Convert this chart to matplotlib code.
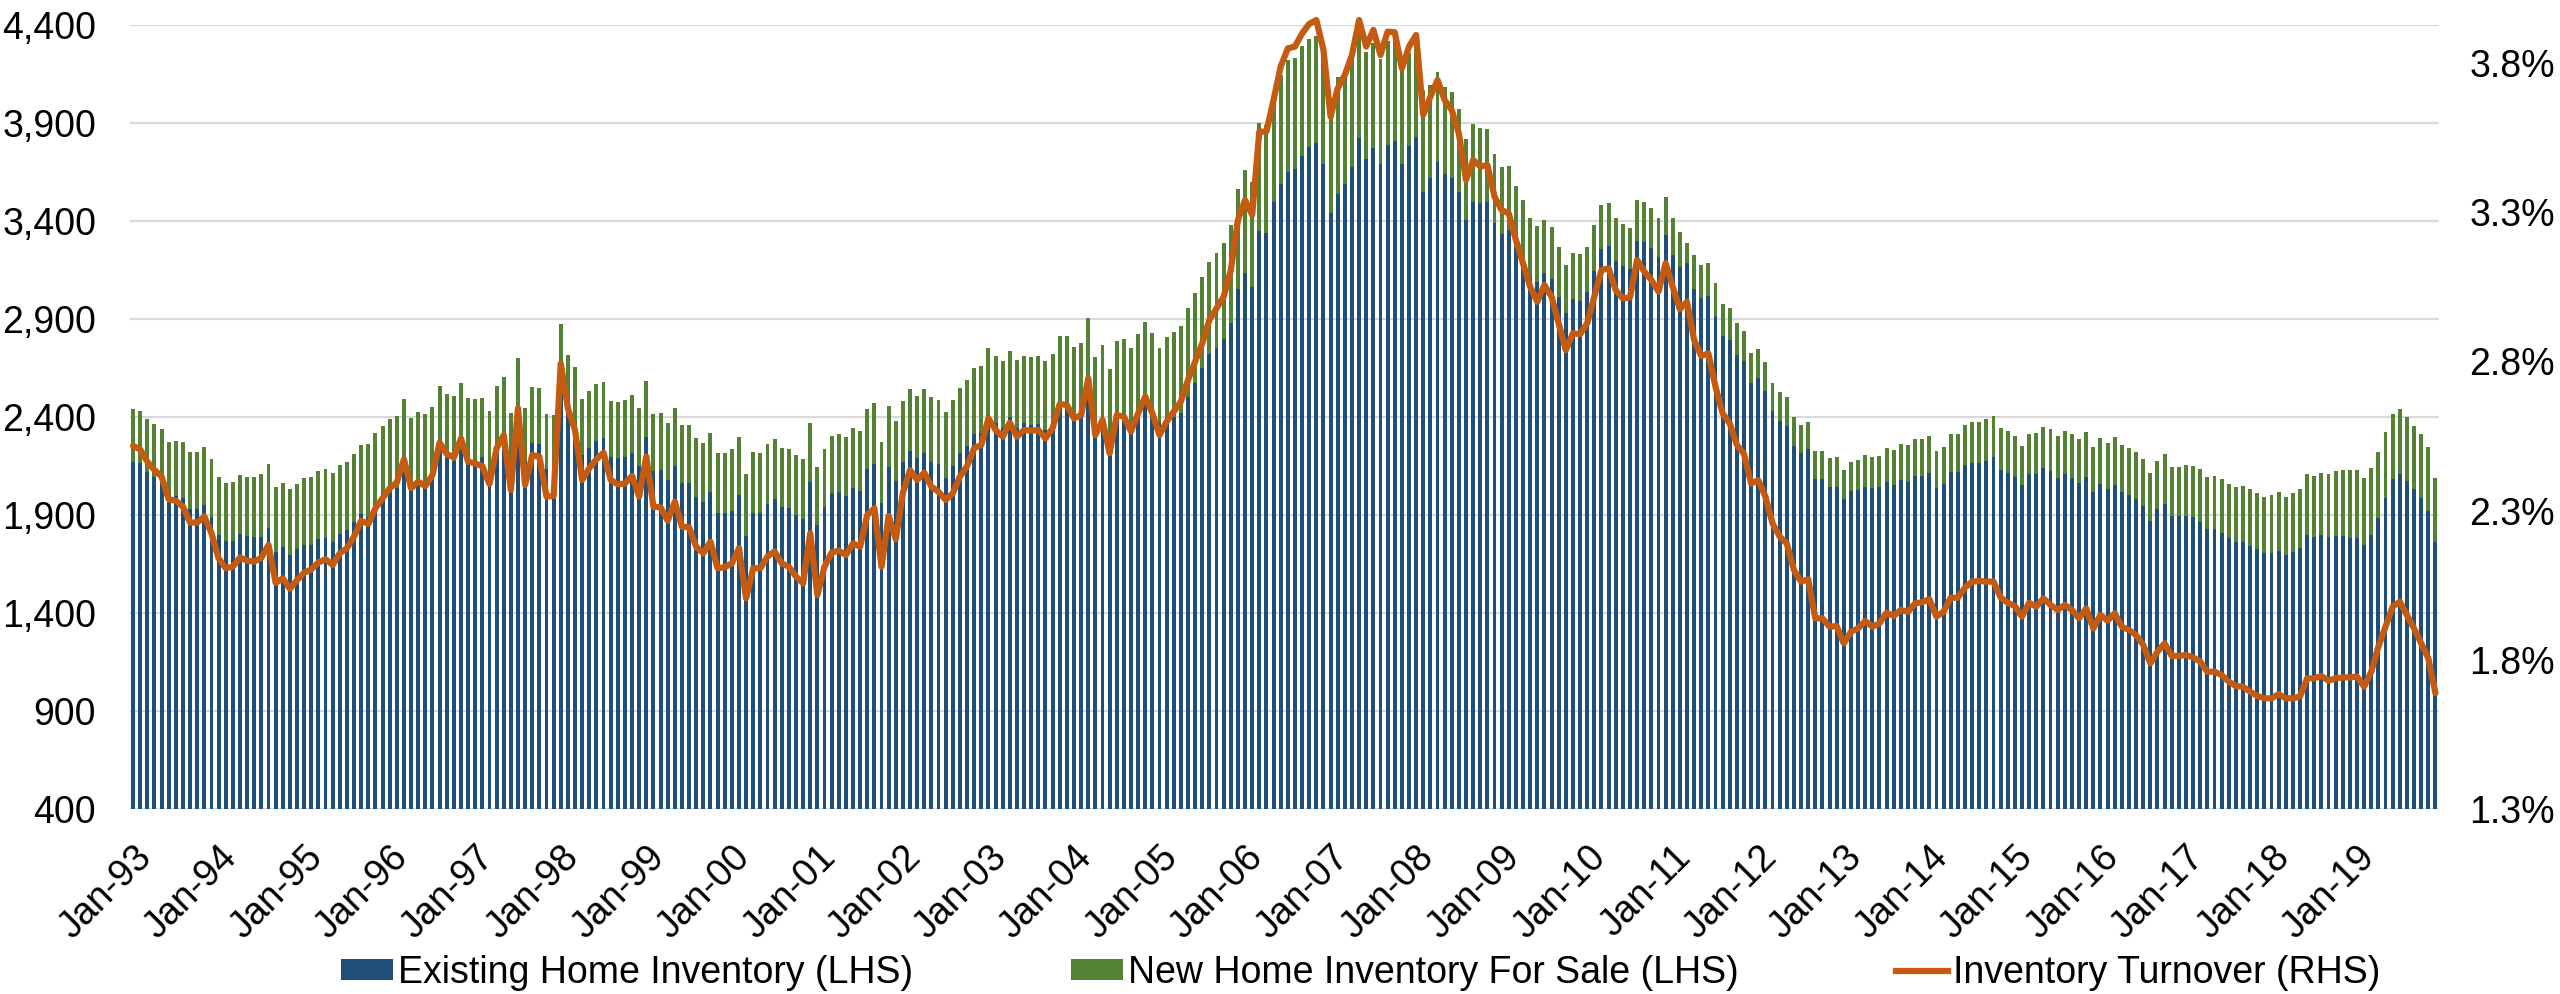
import numpy as np
import pandas as pd
import matplotlib
matplotlib.use("Agg")
import matplotlib.pyplot as plt
from matplotlib.patches import Patch
from matplotlib.lines import Line2D
from matplotlib.ticker import FixedLocator, FuncFormatter

plt.rcParams["font.family"] = ["Liberation Sans", "DejaVu Sans"]

# ---------------- data (monthly, Jan-93 .. Dec-19) ----------------
months = pd.date_range("1993-01-01", "2019-12-01", freq="MS")

existing_home = [
    2172, 2164, 2121, 2092, 2065, 1963, 1997, 1985, 1931, 1931, 1951, 1891,
    1798, 1769, 1769, 1803, 1793, 1786, 1790, 1835, 1713, 1735, 1696, 1725,
    1747, 1747, 1776, 1784, 1764, 1803, 1824, 1863, 1903, 1892, 1946, 1990,
    2019, 2036, 2121, 2036, 2065, 2045, 2104, 2249, 2189, 2177, 2249, 2164,
    2160, 2198, 2062, 2215, 2283, 2019, 2436, 2172, 2266, 2262, 2133, 2138,
    2580, 2427, 2368, 2206, 2244, 2279, 2295, 2194, 2191, 2194, 2218, 2152,
    2300, 2126, 2130, 2079, 2150, 2065, 2062, 1994, 1968, 2019, 1912, 1912,
    1922, 2002, 1795, 1912, 1912, 1956, 1980, 1939, 1934, 1900, 1880, 2070,
    1849, 1939, 2014, 2016, 1999, 2036, 2022, 2133, 2160, 1963, 2147, 2073,
    2172, 2227, 2193, 2218, 2172, 2159, 2090, 2152, 2218, 2254, 2312, 2317,
    2410, 2368, 2342, 2398, 2342, 2368, 2359, 2364, 2334, 2371, 2470, 2461,
    2388, 2410, 2521, 2334, 2393, 2266, 2419, 2410, 2368, 2436, 2495, 2444,
    2368, 2402, 2402, 2422, 2504, 2572, 2648, 2720, 2754, 2796, 2878, 3051,
    3136, 3062, 3351, 3341, 3495, 3587, 3652, 3664, 3733, 3779, 3800, 3689,
    3443, 3536, 3590, 3677, 3822, 3716, 3774, 3692, 3788, 3808, 3692, 3784,
    3830, 3546, 3621, 3703, 3638, 3621, 3550, 3405, 3499, 3494, 3499, 3388,
    3334, 3354, 3261, 3192, 3116, 3090, 3133, 3104, 3014, 2932, 3000, 2994,
    3040, 3145, 3256, 3274, 3196, 3172, 3155, 3300, 3291, 3264, 3218, 3329,
    3227, 3164, 3184, 3053, 3009, 3019, 2915, 2815, 2793, 2716, 2686, 2575,
    2601, 2534, 2431, 2381, 2356, 2254, 2215, 2235, 2084, 2084, 2041, 2045,
    1980, 2022, 2026, 2041, 2036, 2041, 2067, 2053, 2079, 2070, 2101, 2101,
    2113, 2039, 2058, 2121, 2121, 2155, 2167, 2167, 2175, 2194, 2130, 2116,
    2096, 2053, 2109, 2109, 2141, 2126, 2087, 2109, 2087, 2062, 2096, 2016,
    2057, 2031, 2053, 2016, 2002, 1980, 1948, 1871, 1932, 1958, 1895, 1895,
    1895, 1890, 1863, 1827, 1827, 1810, 1781, 1761, 1764, 1744, 1725, 1704,
    1708, 1718, 1696, 1713, 1730, 1798, 1786, 1798, 1790, 1793, 1795, 1784,
    1784, 1747, 1798, 1886, 1988, 2085, 2111, 2075, 2033, 1988, 1922, 1764,
]

# top of each stacked bar (existing + new)
total_inventory = [
    2441, 2432, 2392, 2364, 2340, 2274, 2278, 2271, 2220, 2223, 2247, 2184,
    2096, 2065, 2067, 2104, 2096, 2096, 2109, 2160, 2041, 2062, 2031, 2060,
    2087, 2096, 2125, 2133, 2113, 2155, 2169, 2213, 2257, 2262, 2317, 2354,
    2392, 2407, 2490, 2397, 2426, 2414, 2449, 2556, 2516, 2507, 2574, 2499,
    2494, 2495, 2432, 2556, 2606, 2422, 2699, 2444, 2551, 2546, 2415, 2409,
    2873, 2716, 2657, 2490, 2533, 2568, 2580, 2483, 2478, 2487, 2511, 2444,
    2585, 2414, 2419, 2368, 2444, 2358, 2358, 2291, 2266, 2317, 2215, 2218,
    2235, 2296, 2108, 2220, 2218, 2262, 2286, 2244, 2235, 2204, 2184, 2371,
    2147, 2235, 2303, 2312, 2296, 2344, 2329, 2443, 2470, 2272, 2456, 2381,
    2482, 2543, 2509, 2543, 2500, 2487, 2424, 2487, 2550, 2589, 2652, 2662,
    2750, 2711, 2686, 2738, 2691, 2713, 2704, 2711, 2686, 2721, 2815, 2813,
    2759, 2776, 2903, 2704, 2767, 2645, 2789, 2796, 2754, 2822, 2886, 2830,
    2754, 2810, 2835, 2864, 2954, 3031, 3113, 3193, 3238, 3286, 3380, 3563,
    3660, 3601, 3898, 3890, 4017, 4145, 4221, 4233, 4295, 4330, 4344, 4269,
    3992, 4136, 4167, 4250, 4358, 4261, 4306, 4228, 4320, 4327, 4211, 4259,
    4337, 4068, 4094, 4162, 4082, 4056, 3970, 3817, 3893, 3876, 3871, 3742,
    3677, 3682, 3579, 3507, 3417, 3374, 3405, 3368, 3269, 3175, 3235, 3230,
    3269, 3378, 3482, 3494, 3417, 3383, 3366, 3507, 3495, 3465, 3417, 3521,
    3417, 3342, 3290, 3226, 3175, 3187, 3082, 2976, 2954, 2878, 2840, 2728,
    2747, 2682, 2575, 2526, 2500, 2398, 2359, 2376, 2227, 2228, 2193, 2194,
    2129, 2172, 2181, 2206, 2198, 2203, 2240, 2232, 2262, 2257, 2288, 2286,
    2303, 2227, 2249, 2313, 2315, 2359, 2376, 2376, 2390, 2405, 2342, 2329,
    2303, 2254, 2315, 2317, 2351, 2339, 2305, 2329, 2312, 2286, 2322, 2245,
    2291, 2269, 2296, 2256, 2244, 2223, 2187, 2113, 2176, 2210, 2147, 2147,
    2155, 2152, 2133, 2096, 2099, 2082, 2058, 2045, 2048, 2031, 2011, 1994,
    2001, 2019, 1994, 2014, 2034, 2109, 2101, 2116, 2109, 2126, 2130, 2130,
    2128, 2087, 2138, 2220, 2325, 2415, 2441, 2402, 2356, 2313, 2245, 2091,
]

inventory_turnover = [
    2.517, 2.505, 2.464, 2.436, 2.414, 2.338, 2.333, 2.313, 2.260, 2.260, 2.280, 2.224,
    2.140, 2.107, 2.112, 2.143, 2.132, 2.129, 2.142, 2.185, 2.058, 2.073, 2.038, 2.067,
    2.092, 2.103, 2.126, 2.137, 2.118, 2.157, 2.174, 2.213, 2.266, 2.255, 2.308, 2.341,
    2.375, 2.394, 2.472, 2.375, 2.397, 2.382, 2.419, 2.528, 2.490, 2.478, 2.542, 2.464,
    2.458, 2.449, 2.389, 2.509, 2.553, 2.369, 2.643, 2.386, 2.486, 2.481, 2.347, 2.349,
    2.793, 2.643, 2.570, 2.403, 2.442, 2.472, 2.494, 2.403, 2.388, 2.391, 2.416, 2.347,
    2.481, 2.313, 2.311, 2.266, 2.330, 2.246, 2.244, 2.179, 2.157, 2.196, 2.107, 2.110,
    2.123, 2.174, 2.006, 2.107, 2.107, 2.146, 2.163, 2.123, 2.112, 2.079, 2.056, 2.224,
    2.017, 2.112, 2.159, 2.166, 2.151, 2.190, 2.179, 2.285, 2.308, 2.112, 2.282, 2.204,
    2.360, 2.436, 2.403, 2.427, 2.380, 2.363, 2.336, 2.358, 2.414, 2.449, 2.509, 2.520,
    2.609, 2.570, 2.548, 2.595, 2.548, 2.570, 2.568, 2.570, 2.542, 2.576, 2.657, 2.654,
    2.609, 2.620, 2.743, 2.553, 2.604, 2.492, 2.620, 2.615, 2.565, 2.626, 2.682, 2.626,
    2.553, 2.598, 2.632, 2.665, 2.738, 2.799, 2.861, 2.939, 2.978, 3.017, 3.106, 3.274,
    3.341, 3.291, 3.570, 3.570, 3.676, 3.788, 3.849, 3.855, 3.899, 3.931, 3.944, 3.844,
    3.620, 3.715, 3.760, 3.827, 3.944, 3.855, 3.911, 3.827, 3.905, 3.903, 3.782, 3.855,
    3.894, 3.626, 3.687, 3.743, 3.676, 3.642, 3.564, 3.408, 3.475, 3.453, 3.458, 3.352,
    3.307, 3.296, 3.207, 3.129, 3.050, 3.000, 3.056, 3.017, 2.928, 2.838, 2.894, 2.891,
    2.928, 3.017, 3.106, 3.112, 3.039, 3.011, 3.014, 3.140, 3.101, 3.073, 3.034, 3.129,
    3.050, 2.975, 3.000, 2.872, 2.818, 2.827, 2.715, 2.626, 2.592, 2.520, 2.490, 2.391,
    2.402, 2.347, 2.257, 2.213, 2.190, 2.101, 2.062, 2.070, 1.939, 1.939, 1.911, 1.913,
    1.855, 1.894, 1.905, 1.930, 1.911, 1.922, 1.958, 1.947, 1.967, 1.961, 1.989, 1.993,
    2.003, 1.945, 1.961, 2.008, 2.008, 2.042, 2.062, 2.064, 2.062, 2.062, 2.009, 1.991,
    1.980, 1.945, 1.991, 1.978, 2.006, 1.984, 1.967, 1.984, 1.967, 1.939, 1.972, 1.905,
    1.950, 1.931, 1.956, 1.911, 1.900, 1.883, 1.850, 1.788, 1.827, 1.855, 1.813, 1.813,
    1.816, 1.808, 1.794, 1.760, 1.760, 1.749, 1.727, 1.712, 1.710, 1.693, 1.679, 1.671,
    1.671, 1.685, 1.671, 1.671, 1.677, 1.738, 1.738, 1.746, 1.730, 1.738, 1.741, 1.741,
    1.744, 1.710, 1.760, 1.844, 1.911, 1.978, 1.995, 1.950, 1.905, 1.855, 1.805, 1.688,
]

new_home = [t - e for t, e in zip(total_inventory, existing_home)]

left_ticks = [400, 900, 1400, 1900, 2400, 2900, 3400, 3900, 4400]
right_ticks = [1.3, 1.8, 2.3, 2.8, 3.3, 3.8]
year_tick_labels = [d.strftime("%b-%y") for d in months[::12]]

series_names = ["Existing Home Inventory (LHS)",
                "New Home Inventory For Sale (LHS)",
                "Inventory Turnover (RHS)"]

# ---------------- styling ----------------
BLUE = "#1F4E79"
GREEN = "#548235"
ORANGE = "#C55A11"
GRID = "#D9D9D9"
FS = 27

W, H = 2560, 994
fig = plt.figure(figsize=(W / 100, H / 100), dpi=100)
left_px, right_px, top_px, bot_px = 129.5, 2439, 25, 809
ax = fig.add_axes([left_px / W, 1 - bot_px / H,
                   (right_px - left_px) / W, (bot_px - top_px) / H])

x = np.arange(len(months))
ax.bar(x, existing_home, width=0.55, color=BLUE, linewidth=0, zorder=2)
ax.bar(x, new_home, bottom=existing_home, width=0.55, color=GREEN,
       linewidth=0, zorder=2)

ax.set_xlim(-0.5, len(months) - 0.5)
ax.set_ylim(400, 4400)
ax.yaxis.set_major_locator(FixedLocator(left_ticks))
ax.yaxis.set_major_formatter(FuncFormatter(lambda v, p: f"{int(v):,}"))
ax.yaxis.grid(True, color=GRID, linewidth=1.6, zorder=0)
ax.set_axisbelow(True)
for s in ax.spines.values():
    s.set_visible(False)

ax.set_xticks(x[::12])
ax.set_xticklabels(year_tick_labels, rotation=45, ha="right", va="top",
                   rotation_mode="anchor")
ax.tick_params(axis="x", length=0, pad=22, labelsize=FS)
ax.tick_params(axis="y", length=0, pad=24, labelsize=FS)

ax2 = ax.twinx()
ax2.plot(x, inventory_turnover, color=ORANGE, linewidth=4.5,
         solid_joinstyle="round", solid_capstyle="round", clip_on=False,
         zorder=3)
ax2.set_ylim(1.3, 1.3 + (bot_px - top_px) / 298.4)
ax2.yaxis.set_major_locator(FixedLocator(right_ticks))
ax2.yaxis.set_major_formatter(FuncFormatter(lambda v, p: f"{v:.1f}%"))
ax2.tick_params(axis="y", length=0, pad=22, labelsize=FS)
for s in ax2.spines.values():
    s.set_visible(False)

handles = [Patch(facecolor=BLUE, edgecolor="none"),
           Patch(facecolor=GREEN, edgecolor="none"),
           Line2D([], [], color=ORANGE, linewidth=4.5)]
fig.legend(handles, series_names, loc="center",
           bbox_to_anchor=(1360.5 / W, 1 - 973 / H), ncol=3, frameon=False,
           fontsize=FS, handlelength=1.4, handleheight=0.5,
           handletextpad=0.12, columnspacing=4.2, borderpad=0, borderaxespad=0)

fig.savefig("out.png", dpi=100)
